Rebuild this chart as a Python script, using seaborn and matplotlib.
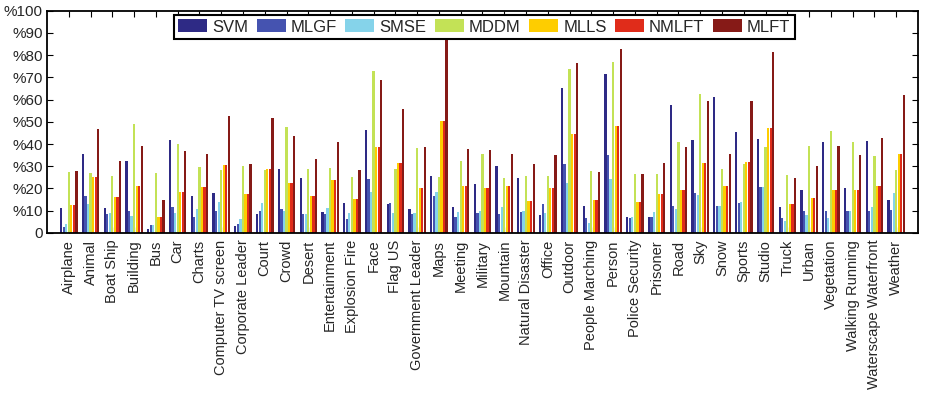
import numpy as np
import pandas as pd
import matplotlib
matplotlib.use("Agg")
import matplotlib.pyplot as plt
import seaborn as sns

categories = [
    "Airplane", "Animal", "Boat Ship", "Building", "Bus", "Car", "Charts",
    "Computer TV screen", "Corporate Leader", "Court", "Crowd", "Desert",
    "Entertainment", "Explosion Fire", "Face", "Flag US", "Government Leader",
    "Maps", "Meeting", "Military", "Mountain", "Natural Disaster", "Office",
    "Outdoor", "People Marching", "Person", "Police Security", "Prisoner",
    "Road", "Sky", "Snow", "Sports", "Studio", "Truck", "Urban", "Vegetation",
    "Walking Running", "Waterscape Waterfront", "Weather",
]

methods = ["SVM", "MLGF", "SMSE", "MDDM", "MLLS", "NMLFT", "MLFT"]
colors = ["#2E2A85", "#4553B0", "#85D3EA", "#C3E256", "#FECD00", "#E02C1A", "#861A17"]

svm = [11.0, 35.7, 11.1, 32.3, 1.7, 42.0, 16.4, 18.0, 3.2, 8.6, 28.7, 24.5,
       9.3, 13.4, 46.1, 12.8, 10.5, 25.7, 11.6, 22.1, 29.9, 24.9, 8.0,
       65.0, 12.0, 71.6, 7.2, 7.2, 57.4, 41.9, 61.1, 45.3, 42.2, 11.6, 19.1,
       41.1, 20.1, 41.3, 14.6]
mlgf = [2.6, 16.5, 8.3, 9.9, 3.3, 11.4, 7.2, 9.6, 3.9, 9.8, 10.7, 8.3,
        8.6, 6.3, 24.2, 13.2, 8.4, 16.7, 7.1, 9.0, 8.6, 9.2, 12.8,
        31.2, 6.6, 35.1, 6.8, 6.9, 11.9, 18.0, 12.0, 13.5, 20.6, 6.5, 9.9,
        9.9, 9.6, 9.8, 10.4]
smse = [3.9, 13.0, 8.9, 7.5, 3.5, 8.7, 10.8, 13.8, 6.3, 13.4, 10.0, 8.6,
        11.0, 9.0, 18.3, 9.0, 9.0, 18.5, 9.3, 9.9, 11.6, 9.8, 8.7,
        22.5, 4.5, 24.3, 7.0, 9.2, 10.5, 17.1, 12.0, 14.0, 20.6, 5.4, 8.0,
        6.6, 9.6, 11.6, 17.9]
mddm = [27.3, 26.9, 25.5, 49.2, 27.0, 40.1, 29.7, 28.2, 30.2, 28.2, 47.6, 28.7,
        29.0, 25.0, 72.7, 28.7, 38.4, 25.0, 32.3, 35.6, 24.6, 25.7, 25.5,
        73.6, 27.9, 77.0, 26.4, 26.7, 40.7, 62.5, 28.7, 30.8, 38.7, 26.0, 39.3,
        45.9, 41.1, 34.5, 28.2]
mlls = [12.5, 25.0, 16.0, 21.2, 7.0, 18.6, 20.6, 30.6, 17.4, 28.9, 22.5, 16.5,
        23.9, 15.3, 38.7, 31.4, 20.3, 50.3, 21.0, 20.3, 20.9, 14.4, 20.3,
        44.6, 14.6, 48.2, 13.7, 17.3, 19.1, 31.5, 20.9, 32.1, 47.3, 13.1, 15.8,
        19.2, 19.2, 21.3, 35.4]
nmlft = [12.5, 25.0, 16.0, 21.2, 7.0, 18.6, 20.6, 30.6, 17.4, 28.7, 22.5, 16.5,
         23.9, 15.3, 38.7, 31.4, 20.3, 50.3, 21.0, 20.3, 20.9, 14.4, 20.3,
         44.6, 14.6, 48.2, 13.7, 17.3, 19.1, 31.5, 20.9, 32.1, 47.3, 13.1, 15.8,
         19.2, 19.2, 21.3, 35.4]
mlft = [27.8, 46.8, 32.4, 39.0, 14.7, 37.0, 35.6, 52.5, 31.1, 51.7, 43.5, 33.2,
        40.7, 28.5, 68.8, 55.7, 38.7, 90.0, 37.7, 37.2, 35.3, 30.9, 35.1,
        76.3, 27.2, 82.6, 26.3, 31.4, 38.6, 59.5, 35.7, 59.3, 81.4, 24.6, 30.3,
        39.0, 35.1, 42.6, 61.9]

yticks = list(range(0, 101, 10))
ytick_labels = ["0"] + ["%" + str(v) for v in yticks[1:]]

series = [svm, mlgf, smse, mddm, mlls, nmlft, mlft]
df = pd.DataFrame({
    "category": np.tile(categories, len(methods)),
    "method": np.repeat(methods, len(categories)),
    "value": np.concatenate(series),
})

sns.set_theme(style="white")
plt.rcParams["font.family"] = ["Liberation Sans", "DejaVu Sans"]

fig = plt.figure(figsize=(9.25, 4.0), dpi=100)
ax = fig.add_axes([0.0508, 0.418, 0.9416, 0.555])

sns.barplot(data=df, x="category", y="value", hue="method",
            hue_order=methods, palette=colors, order=categories,
            width=0.82, gap=0.12, saturation=1, linewidth=0, ax=ax)

ax.set_xlim(-1, len(categories))
ax.set_ylim(0, 100)
ax.set_yticks(yticks)
ax.set_yticklabels(ytick_labels, fontsize=11)
ax.set_xticks(range(len(categories)))
ax.set_xticklabels(categories, rotation=90, fontsize=10.5)
ax.set_xlabel("")
ax.set_ylabel("")

for s in ax.spines.values():
    s.set_color("black")
    s.set_linewidth(1.3)
ax.tick_params(direction="in", length=4, width=0.8, color="black",
               top=True, right=True, bottom=True, left=True, pad=3)
ax.tick_params(axis="x", pad=5)

sns.move_legend(ax, "upper center", bbox_to_anchor=(0.502, 0.981), ncol=7,
                title=None, fontsize=12, frameon=True, fancybox=False,
                framealpha=1, edgecolor="black", borderaxespad=0,
                handlelength=1.75, handleheight=0.85, handletextpad=0.3,
                columnspacing=0.5, borderpad=0.25)
leg = ax.get_legend()
leg.get_frame().set_linewidth(1.5)
leg.set_zorder(10)

fig.savefig("out.png", dpi=100)
